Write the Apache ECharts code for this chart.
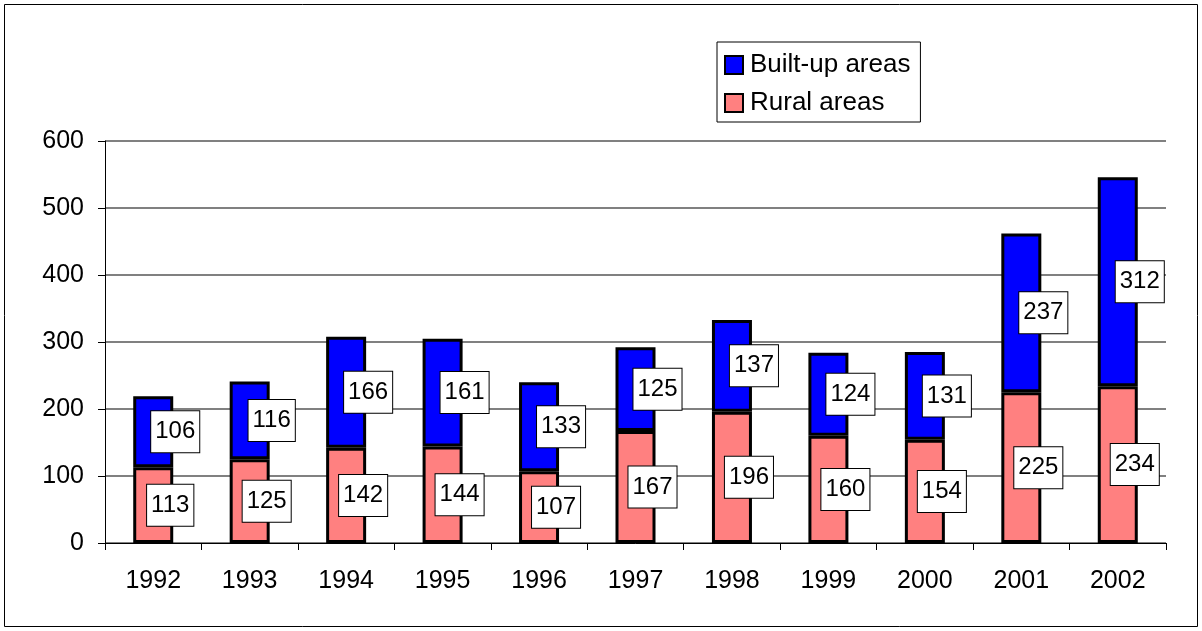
<!DOCTYPE html>
<html><head><meta charset="utf-8">
<script src="https://cdn.jsdelivr.net/npm/echarts@6/dist/echarts.min.js"></script>
<style>html,body{margin:0;padding:0;background:#fff}#c{width:1202px;height:631px}</style>
</head><body><div id="c"></div>
<script>
const years = ['1992','1993','1994','1995','1996','1997','1998','1999','2000','2001','2002'];
const rural = [113,125,142,144,107,167,196,160,154,225,234];
const builtUp = [106,116,166,161,133,125,137,124,131,237,312];
const yTicks = [0,100,200,300,400,500,600];

const chart = echarts.init(document.getElementById('c'));
const F = 'Arial, "Liberation Sans", sans-serif';
const lbl = (dx) => ({
  show: true, position: 'inside', offset: [dx, 0],
  color: '#000', fontFamily: F, fontSize: 24, lineHeight: 24,
  backgroundColor: '#fff', borderColor: '#000', borderWidth: 1,
  padding: [9, 4, 8, 4]
});
chart.setOption({
  animation: false,
  graphic: [{type:'rect', shape:{x:4.5,y:4.5,width:1193,height:622}, style:{fill:'none', stroke:'#000', lineWidth:1}, silent:true}],
  grid: {left: 105, right: 36, top: 141, bottom: 88},
  legend: {
    orient: 'vertical', left: 717, top: 42,
    data: ['Built-up areas', 'Rural areas'],
    backgroundColor: '#fff', borderColor: '#000', borderWidth: 1,
    padding: [10, 10, 6, 7], itemGap: 12,
    itemWidth: 18, itemHeight: 18,
    textStyle: {fontFamily: F, fontSize: 26, color: '#000', lineHeight: 26, padding: [0,0,0,2]},
    icon: 'rect',
    itemStyle: {borderColor: '#000', borderWidth: 2}
  },
  xAxis: {
    type: 'category', data: years,
    axisLine: {lineStyle: {color: '#000', width: 1}},
    axisTick: {show: true, inside: false, length: 7, lineStyle: {color: '#000'}},
    axisLabel: {fontFamily: F, fontSize: 25, color: '#000', margin: 26}
  },
  yAxis: {
    type: 'value', min: 0, max: 600, interval: 100,
    axisLine: {show: true, lineStyle: {color: '#000', width: 1}},
    axisTick: {show: true, length: 7, lineStyle: {color: '#000'}},
    splitLine: {lineStyle: {color: '#808080', width: 2}},
    axisLabel: {fontFamily: F, fontSize: 25, color: '#000', margin: 21,
      formatter: v => yTicks.includes(v) ? String(v) : ''}
  },
  series: [
    {name: 'Rural areas', type: 'bar', stack: 's', data: rural, barWidth: 40,
     itemStyle: {color: '#FF8080', borderColor: '#000', borderWidth: 3},
     label: lbl(17)},
    {name: 'Built-up areas', type: 'bar', stack: 's', data: builtUp, barWidth: 40,
     itemStyle: {color: '#0000FF', borderColor: '#000', borderWidth: 3},
     label: lbl(22)}
  ]
});
</script></body></html>
